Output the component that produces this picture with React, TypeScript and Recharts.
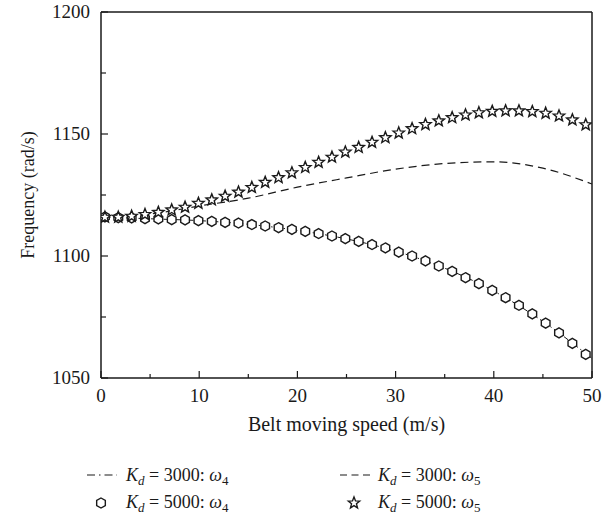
import React from "react";
import {
  ComposedChart,
  Line,
  Scatter,
  XAxis,
  YAxis,
  Legend,
  ReferenceLine,
} from "recharts";

const FONT = "'Liberation Serif', 'Times New Roman', serif";
const INK = "#1a1a1a";

// belt speeds (m/s) where the Kd = 5000 markers sit
const speeds = [
  0.4, 1.76, 3.12, 4.48, 5.84, 7.2, 8.56, 9.92, 11.28, 12.64, 14.0, 15.36,
  16.72, 18.08, 19.44, 20.8, 22.16, 23.52, 24.88, 26.24, 27.6, 28.96, 30.32,
  31.68, 33.04, 34.4, 35.76, 37.12, 38.48, 39.84, 41.2, 42.56, 43.92, 45.28,
  46.64, 48.0, 49.36,
];

// Kd = 5000, omega 4 (hexagons)
const omega4Kd5000 = [
  1116.0, 1115.7, 1115.6, 1115.3, 1115.2, 1114.9, 1114.8, 1114.5, 1114.2,
  1113.8, 1113.5, 1112.9, 1112.3, 1111.6, 1110.9, 1110.1, 1109.2, 1108.2,
  1107.1, 1106.0, 1104.7, 1103.3, 1101.6, 1100.0, 1098.0, 1095.9, 1093.7,
  1091.1, 1088.7, 1085.9, 1082.9, 1079.8, 1076.3, 1072.5, 1068.5, 1064.2,
  1059.7,
];

// Kd = 5000, omega 5 (stars)
const omega5Kd5000 = [
  1115.9, 1115.9, 1116.3, 1117.0, 1117.9, 1118.9, 1120.0, 1121.6, 1123.0,
  1124.5, 1126.2, 1128.1, 1130.2, 1132.1, 1134.1, 1136.3, 1138.4, 1140.5,
  1142.6, 1144.5, 1146.6, 1148.5, 1150.4, 1152.2, 1153.9, 1155.4, 1156.7,
  1157.8, 1158.7, 1159.3, 1159.5, 1159.5, 1159.2, 1158.5, 1157.4, 1155.8,
  1153.8,
];

// Kd = 3000 curves, read every 5 m/s
const lineSpeeds = [0, 5, 10, 15, 20, 25, 30, 35, 40, 45, 50];
const omega4Kd3000 = [
  1116.0, 1115.25, 1114.5, 1113.0, 1110.5, 1107.0, 1102.0, 1095.0, 1085.6,
  1073.2, 1058.0,
];
const omega5Kd3000 = [
  1116.0, 1117.2, 1120.5, 1123.7, 1128.2, 1132.0, 1135.6, 1137.9, 1138.6,
  1136.0, 1129.5,
];

const xTicks = [0, 5, 10, 15, 20, 25, 30, 35, 40, 45, 50];
const yTicks = [1050, 1075, 1100, 1125, 1150, 1175, 1200];

const hexData = speeds.map((s, i) => ({ speed: s, freq: omega4Kd5000[i] }));
const starData = speeds.map((s, i) => ({ speed: s, freq: omega5Kd5000[i] }));
const dashDotData = lineSpeeds.map((s, i) => ({ speed: s, freq: omega4Kd3000[i] }));
const dashData = lineSpeeds.map((s, i) => ({ speed: s, freq: omega5Kd3000[i] }));

function hexPath(cx: number, cy: number, r: number) {
  const pts = [];
  for (let k = 0; k < 6; k++) {
    const a = (Math.PI / 3) * k - Math.PI / 2;
    pts.push(`${cx + r * Math.cos(a)},${cy + r * Math.sin(a)}`);
  }
  return `M${pts.join("L")}Z`;
}

function starPath(cx: number, cy: number, R: number, r: number) {
  const pts = [];
  for (let k = 0; k < 10; k++) {
    const a = (Math.PI / 5) * k - Math.PI / 2;
    const rad = k % 2 === 0 ? R : r;
    pts.push(`${cx + rad * Math.cos(a)},${cy + rad * Math.sin(a)}`);
  }
  return `M${pts.join("L")}Z`;
}

const Hex = (props: any) => (
  <path d={hexPath(props.cx, props.cy, 5)} fill="#fff" stroke={INK} strokeWidth={1.4} />
);

const Star = (props: any) => (
  <path d={starPath(props.cx, props.cy, 6, 2.6)} fill="#fff" stroke={INK} strokeWidth={1.4} />
);

const XTick = (props: any) => {
  const { x, y, payload } = props;
  const major = payload.value % 10 === 0;
  return (
    <g>
      <line x1={x} x2={x} y1={y} y2={y - (major ? 7 : 4)} stroke={INK} strokeWidth={1.2} />
      {major && (
        <text x={x} y={y + 24} textAnchor="middle" fontSize={19} fontFamily={FONT} fill={INK}>
          {payload.value}
        </text>
      )}
    </g>
  );
};

const YTick = (props: any) => {
  const { x, y, payload } = props;
  const major = payload.value % 50 === 0;
  return (
    <g>
      <line x1={x} x2={x + (major ? 7 : 5)} y1={y} y2={y} stroke={INK} strokeWidth={1.2} />
      {major && (
        <text x={x - 11} y={y + 6} textAnchor="end" fontSize={19} fontFamily={FONT} fill={INK}>
          {payload.value}
        </text>
      )}
    </g>
  );
};

const YTitle = (props: any) => {
  const { viewBox } = props;
  const cy = viewBox.y + viewBox.height / 2;
  const cx = 28;
  return (
    <text
      x={cx}
      y={cy}
      transform={`rotate(-90 ${cx} ${cy})`}
      textAnchor="middle"
      dominantBaseline="central"
      fontSize={18}
      fontFamily={FONT}
      fill={INK}
    >
      Frequency (rad/s)
    </text>
  );
};

const XTitle = (props: any) => {
  const { viewBox } = props;
  const cx = viewBox.x + viewBox.width / 2;
  return (
    <text x={cx} y={viewBox.y + 53} textAnchor="middle" fontSize={20} fontFamily={FONT} fill={INK}>
      Belt moving speed (m/s)
    </text>
  );
};

const legendRows = [
  { kd: 3000, mode: 4, kind: "dashdot" },
  { kd: 3000, mode: 5, kind: "dash" },
  { kd: 5000, mode: 4, kind: "hex" },
  { kd: 5000, mode: 5, kind: "star" },
];

const LegendBox = () => (
  <svg width={609} height={65}>
    {legendRows.map((row, i) => {
      const col = i % 2;
      const line = Math.floor(i / 2);
      const sx = col === 0 ? 87 : 340;
      const tx = col === 0 ? 126 : 378;
      const base = line === 0 ? 26 : 53;
      const mid = base - 6;
      let symbol;
      if (row.kind === "dashdot")
        symbol = <line x1={sx} x2={sx + 30} y1={mid} y2={mid} stroke={INK} strokeWidth={1.2} strokeDasharray="8 4 1.5 4" />;
      else if (row.kind === "dash")
        symbol = <line x1={sx} x2={sx + 30} y1={mid} y2={mid} stroke={INK} strokeWidth={1.2} strokeDasharray="7 4.5" />;
      else if (row.kind === "hex") symbol = <Hex cx={sx + 14} cy={mid + 1} />;
      else symbol = <Star cx={sx + 14} cy={mid + 1} />;
      return (
        <g key={i}>
          {symbol}
          <text x={tx} y={base} fontSize={18} fontFamily={FONT} fill={INK}>
            <tspan fontStyle="italic">K</tspan>
            <tspan fontStyle="italic" fontSize={13} dy={4}>d</tspan>
            <tspan dy={-4}>{` = ${row.kd}: `}</tspan>
            <tspan fontStyle="italic">ω</tspan>
            <tspan fontSize={13} dy={4}>{row.mode}</tspan>
          </text>
        </g>
      );
    })}
  </svg>
);

export default function App() {
  return (
    <div style={{ position: "absolute", left: 0, top: 0, width: 609, height: 520, background: "#fff" }}>
      <ComposedChart width={609} height={520} margin={{ top: 12, right: 17, bottom: 87, left: 0 }}>
        <XAxis
          dataKey="speed"
          type="number"
          domain={[0, 50]}
          ticks={xTicks}
          tickSize={0}
          tickMargin={0}
          tick={<XTick />}
          height={55}
          axisLine={{ stroke: INK, strokeWidth: 1.5 }}
          allowDataOverflow
          label={<XTitle />}
        />
        <YAxis
          dataKey="freq"
          type="number"
          domain={[1050, 1200]}
          ticks={yTicks}
          tickSize={0}
          tickMargin={0}
          tick={<YTick />}
          width={101}
          axisLine={{ stroke: INK, strokeWidth: 1.5 }}
          allowDataOverflow
          label={<YTitle />}
        />
        <ReferenceLine y={1200} stroke={INK} strokeWidth={1.5} />
        <ReferenceLine x={50} stroke={INK} strokeWidth={1.5} />
        <Line
          data={dashDotData}
          dataKey="freq"
          type="monotone"
          stroke={INK}
          strokeWidth={1}
          strokeDasharray="5 3 1.5 3"
          dot={false}
          isAnimationActive={false}
        />
        <Line
          data={dashData}
          dataKey="freq"
          type="monotone"
          stroke={INK}
          strokeWidth={1.2}
          strokeDasharray="8 5"
          dot={false}
          isAnimationActive={false}
        />
        <Scatter data={hexData} dataKey="freq" shape={<Hex />} isAnimationActive={false} />
        <Scatter data={starData} dataKey="freq" shape={<Star />} isAnimationActive={false} />
        <Legend
          layout="vertical"
          align="center"
          verticalAlign="middle"
          content={<LegendBox />}
          wrapperStyle={{ position: "absolute", left: 0, top: 455, width: 609, height: 65 }}
        />
      </ComposedChart>
    </div>
  );
}
